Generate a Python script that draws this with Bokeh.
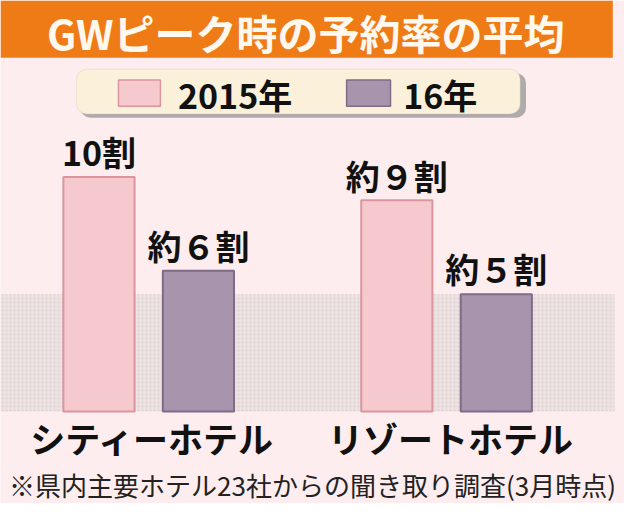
from bokeh.plotting import figure
from bokeh.models import ColumnDataSource, Range1d, BoxAnnotation, Label
from bokeh.core.properties import value
from bokeh.transform import dodge
from bokeh.embed import file_html
from bokeh.resources import INLINE

# data
categories = ["シティーホテル", "リゾートホテル"]
years = ["2015年", "16年"]
rate_2015 = [10, 9]
rate_2016 = [6, 5]
labels_2015 = ["10割", "約９割"]
labels_2016 = ["約６割", "約５割"]
title = "GWピーク時の予約率の平均"
note = "※県内主要ホテル23社からの聞き取り調査(3月時点)"

FONT_NAME = "Noto Sans CJK JP"
FONT = value(FONT_NAME)
BG = "#FDEDEE"
PINK, PINK_EDGE = "#F6C9CE", "#D9969D"
PURPLE, PURPLE_EDGE = "#A895AD", "#7F6B86"

W, H = 624, 503
# layout measured on a 640x519 sketch: one group = 305.5px, one 割 = 24.2px
GX, GSP = 152, 305.5
BASE, UNIT = 424, 24.2
SY = H / 519


def ix(px):
    return (px - GX) / GSP


def iy(py):
    return (BASE - py) / UNIT


p = figure(width=W, height=H, output_backend="svg", toolbar_location=None,
           x_range=Range1d(ix(0), ix(640)), y_range=Range1d(iy(519), iy(0)),
           x_axis_location=None, y_axis_location=None, min_border=0)
p.grid.visible = False
p.outline_line_color = None
p.background_fill_color = BG
p.border_fill_color = BG

# title band
p.add_layout(BoxAnnotation(left=ix(0), right=ix(628), top=iy(0), bottom=iy(59),
                           fill_color="#EF7B17", fill_alpha=1, line_color=None,
                           level="underlay"))
p.add_layout(Label(x=ix(313), y=iy(32), text=title, text_align="center",
                   text_baseline="middle", text_font=FONT_NAME, text_font_style="bold",
                   text_font_size="41px", text_color="#FFF8EE"))

# legend box with shadow
p.add_layout(BoxAnnotation(left=ix(82), right=ix(539), top=iy(75), bottom=iy(121),
                           fill_color="#8E8E8E", fill_alpha=0.7, line_color=None,
                           border_radius=10, level="underlay"))
p.add_layout(BoxAnnotation(left=ix(78), right=ix(533), top=iy(71), bottom=iy(117),
                           fill_color="#FBF0DA", fill_alpha=1, line_color="#CBBFB2",
                           border_radius=10, level="underlay"))
leg = ColumnDataSource(dict(
    left=[ix(121), ix(355)], right=[ix(164), ix(400)],
    tx=[ix(182), ix(413)], year=years,
    fill=[PINK, PURPLE], edge=[PINK_EDGE, PURPLE_EDGE]))
p.quad(left="left", right="right", top=iy(82), bottom=iy(109), source=leg,
       fill_color="fill", line_color="edge", line_width=1.5)
p.text(x="tx", y=iy(97), text="year", source=leg, text_align="left",
       text_baseline="middle", text_font=FONT, text_font_size="34px",
       text_font_style="bold", text_color="#111111")

# stippled grey band behind the lower part of the bars
p.add_layout(BoxAnnotation(left=ix(0), right=ix(630), bottom=0, top=5,
                           fill_color="#EDE2E2", fill_alpha=1, line_color=None,
                           hatch_pattern="dot", hatch_color="#D2C4C4",
                           hatch_scale=4, hatch_alpha=0.6, level="underlay"))

src = ColumnDataSource(dict(x=[0, 1], cat=categories, y15=rate_2015, y16=rate_2016,
                            l15=labels_2015, l16=labels_2016))
off = 51 / GSP
bw = 73 / GSP

p.vbar(x=dodge("x", -off), top="y15", bottom=0, width=bw, source=src,
       fill_color=PINK, line_color=PINK_EDGE, line_width=2)
p.vbar(x=dodge("x", off), top="y16", bottom=0, width=bw, source=src,
       fill_color=PURPLE, line_color=PURPLE_EDGE, line_width=2)

lift = -26 * SY
p.text(x=dodge("x", -off), y="y15", text="l15", source=src, text_align="center",
       text_baseline="middle", y_offset=lift, text_font=FONT, text_font_style="bold",
       text_font_size="34px", text_color="#111111")
p.text(x=dodge("x", off), y="y16", text="l16", source=src, text_align="center",
       text_baseline="middle", y_offset=lift, text_font=FONT, text_font_style="bold",
       text_font_size="34px", text_color="#111111")

# category names and footnote
p.text(x="x", y=0, text="cat", source=src, text_align="center", text_baseline="middle",
       x_offset=4, y_offset=27 * SY, text_font=FONT, text_font_style="bold",
       text_font_size="35px", text_color="#111111")
p.add_layout(Label(x=ix(320), y=iy(499), text=note, text_align="center",
                   text_baseline="middle", text_font=FONT_NAME, text_font_size="26px",
                   text_color="#222222"))

open("out.html", "w").write(file_html(p, INLINE))
